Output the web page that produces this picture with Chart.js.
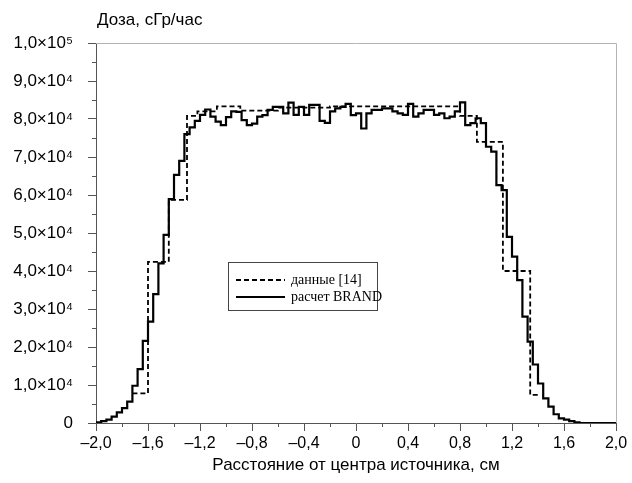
<!DOCTYPE html>
<html><head><meta charset="utf-8">
<script src="https://cdn.jsdelivr.net/npm/chart.js@4"></script>
<style>html,body{margin:0;padding:0;background:#fff}#wrap{width:632px;height:483px}</style>
</head><body><div id="wrap"><canvas id="c" width="632" height="483"></canvas></div>
<script>
// Bin left edges (cm) for the BRAND calculation, last entry closes the final bin
const binEdges = [
 -2.00,-1.96,-1.92,-1.88,-1.84,-1.80,-1.76,-1.72,-1.68,-1.64,
 -1.60,-1.56,-1.52,-1.48,-1.44,-1.40,-1.36,-1.32,-1.28,-1.24,
 -1.20,-1.16,-1.12,-1.08,-1.04,-1.00,-0.96,-0.92,-0.88,-0.84,
 -0.80,-0.76,-0.72,-0.68,-0.64,-0.60,-0.56,-0.52,-0.48,-0.44,
 -0.40,-0.36,-0.32,-0.28,-0.24,-0.20,-0.16,-0.12,-0.08,-0.04,
  0.00, 0.04, 0.08, 0.12, 0.16, 0.20, 0.24, 0.28, 0.32, 0.36,
  0.40, 0.44, 0.48, 0.52, 0.56, 0.60, 0.64, 0.68, 0.72, 0.76,
  0.80, 0.84, 0.88, 0.92, 0.96, 1.00, 1.04, 1.08, 1.12, 1.16,
  1.20, 1.24, 1.28, 1.32, 1.36, 1.40, 1.44, 1.48, 1.52, 1.56,
  1.60, 1.64, 1.68, 1.72, 1.76, 1.80, 1.84, 1.88, 1.92, 1.96,
  2.00
];
// BRAND dose per bin (cGy/h)
const brandValues = [
  200,500,900,1700,2800,3900,5600,9800,14200,21600,
  26700,33900,42000,49500,58900,65300,69000,76000,77800,79500,
  81100,82500,80600,79300,78400,80500,82000,81900,79700,78400,
  78800,80600,81000,82400,83200,83200,81500,84300,81100,83200,
  81100,83700,83700,79500,79000,82000,82800,83200,84000,81000,
  81500,77500,81500,82400,82400,82800,82800,82000,81500,81100,
  84000,80600,81500,82400,82400,81100,81500,80200,80600,82000,
  84400,78400,78900,80200,78900,72700,71400,62600,61300,49000,
  43800,37600,28000,21400,15400,10400,6500,4300,2300,1200,
  900,500,200,0,0,0,0,0,0,0
];
// Reference data [14]: step edges (cm) and values
const dataEdges = [-1.72,-1.60,-1.44,-1.30,-1.22,-1.07,-0.89,-0.60,-0.20,0.12,0.50,0.80,0.93,1.13,1.34,1.40];
const dataValues = [7800,42400,58700,80800,82000,83300,82200,83000,83300,83300,83300,80800,74000,40000,7400];

const seriesNames = ['данные [14]', 'расчет BRAND'];
const xTickValues = [-2.0,-1.6,-1.2,-0.8,-0.4,0,0.4,0.8,1.2,1.6,2.0];
const xTickLabels = ['\u20132,0','\u20131,6','\u20131,2','\u20130,8','\u20130,4','0','0,4','0,8','1,2','1,6','2,0'];
const xMinorTicks = [-1.8,-1.4,-1.0,-0.6,-0.2,0.2,0.6,1.0,1.4,1.8];
const yTickValues = [0,10000,20000,30000,40000,50000,60000,70000,80000,90000,100000];
const yTickLabels = ['0','1,0\u00d710\u2074','2,0\u00d710\u2074','3,0\u00d710\u2074','4,0\u00d710\u2074','5,0\u00d710\u2074','6,0\u00d710\u2074','7,0\u00d710\u2074','8,0\u00d710\u2074','9,0\u00d710\u2074','1,0\u00d710\u2075'];
const yMinorTicks = [5000,15000,25000,35000,45000,55000,65000,75000,85000,95000];
const yAxisTitle = 'Доза, сГр/час';
const xAxisTitle = 'Расстояние от центра источника, см';

function steps(edges, vals){
  const pts = vals.map((v,i)=>({x:edges[i], y:v}));
  pts.push({x:edges[vals.length], y:vals[vals.length-1]});
  return pts;
}

const SANS = '"Liberation Sans", Arial, sans-serif';
const SERIF = '"Liberation Serif", "Times New Roman", serif';
const AXIS = '#555';

const decor = {
  id:'decor',
  afterDraw(chart){
    const {ctx, chartArea:a, scales:{x,y}} = chart;
    ctx.save();
    ctx.lineWidth = 1;
    ctx.strokeStyle = '#b4b4b4';
    ctx.beginPath();
    ctx.moveTo(a.left, a.top+0.5); ctx.lineTo(a.right+0.5, a.top+0.5); ctx.lineTo(a.right+0.5, a.bottom);
    ctx.stroke();
    ctx.strokeStyle = AXIS;
    ctx.beginPath();
    xMinorTicks.forEach(v=>{const px=Math.round(x.getPixelForValue(v))+0.5; ctx.moveTo(px,a.bottom); ctx.lineTo(px,a.bottom+4);});
    yMinorTicks.forEach(v=>{const py=Math.round(y.getPixelForValue(v))+0.5; ctx.moveTo(a.left-4,py); ctx.lineTo(a.left,py);});
    ctx.stroke();
    // y-axis title at top
    ctx.fillStyle='#000'; ctx.font='17px '+SANS; ctx.textAlign='left'; ctx.textBaseline='middle';
    ctx.fillText(yAxisTitle, a.left+1, 20);
    // legend box
    const bx=a.left+132, by=a.top+219, bw=149, bh=48;
    ctx.fillStyle='#fff'; ctx.fillRect(bx,by,bw,bh);
    ctx.strokeStyle='#444'; ctx.strokeRect(bx+0.5,by+0.5,bw,bh);
    const ds = chart.data.datasets;
    const rows=[by+18, by+35];
    ds.forEach((d,i)=>{
      ctx.beginPath(); ctx.strokeStyle='#000'; ctx.lineWidth=d.borderWidth;
      ctx.setLineDash(d.borderDash||[]);
      ctx.moveTo(bx+8,rows[i]); ctx.lineTo(bx+57,rows[i]); ctx.stroke();
      ctx.setLineDash([]);
      ctx.fillStyle='#000'; ctx.font='14px '+SERIF; ctx.textAlign='left'; ctx.textBaseline='middle';
      ctx.fillText(d.label, bx+63, rows[i]);
    });
    ctx.restore();
  }
};

new Chart(document.getElementById('c'), {
  type:'line',
  data:{datasets:[
    {label:seriesNames[0], data:steps(dataEdges,dataValues), stepped:true, borderColor:'#000', borderWidth:1.8, borderDash:[5,3], pointRadius:0, fill:false},
    {label:seriesNames[1], data:steps(binEdges,brandValues), stepped:true, borderColor:'#000', borderWidth:2.2, pointRadius:0, fill:false}
  ]},
  options:{
    responsive:false, devicePixelRatio:1, animation:false,
    layout:{padding:{top:43,right:16,left:0,bottom:0}},
    plugins:{legend:{display:false}, tooltip:{enabled:false}},
    scales:{
      x:{type:'linear', min:-2, max:2,
        afterBuildTicks(s){s.ticks = xTickValues.map(v=>({value:v}));},
        afterFit(s){s.height=60;},
        ticks:{callback:(v,i)=>xTickLabels[i], color:'#000', font:{family:SANS, size:16}, padding:3, maxRotation:0, autoSkip:false},
        grid:{drawOnChartArea:false, drawTicks:true, tickLength:8, color:AXIS},
        border:{display:true, color:AXIS, width:1},
        title:{display:true, text:xAxisTitle, color:'#000', font:{family:SANS, size:17}, padding:{top:0,bottom:7}}
      },
      y:{min:0, max:100000,
        afterBuildTicks(s){s.ticks = yTickValues.map(v=>({value:v}));},
        afterFit(s){s.width=96;},
        ticks:{callback:(v,i)=>yTickLabels[i], color:'#000', font:{family:SANS, size:17}, padding:15, autoSkip:false},
        grid:{drawOnChartArea:false, drawTicks:true, tickLength:8, color:AXIS},
        border:{display:true, color:AXIS, width:1}
      }
    }
  },
  plugins:[decor]
});
</script></body></html>
